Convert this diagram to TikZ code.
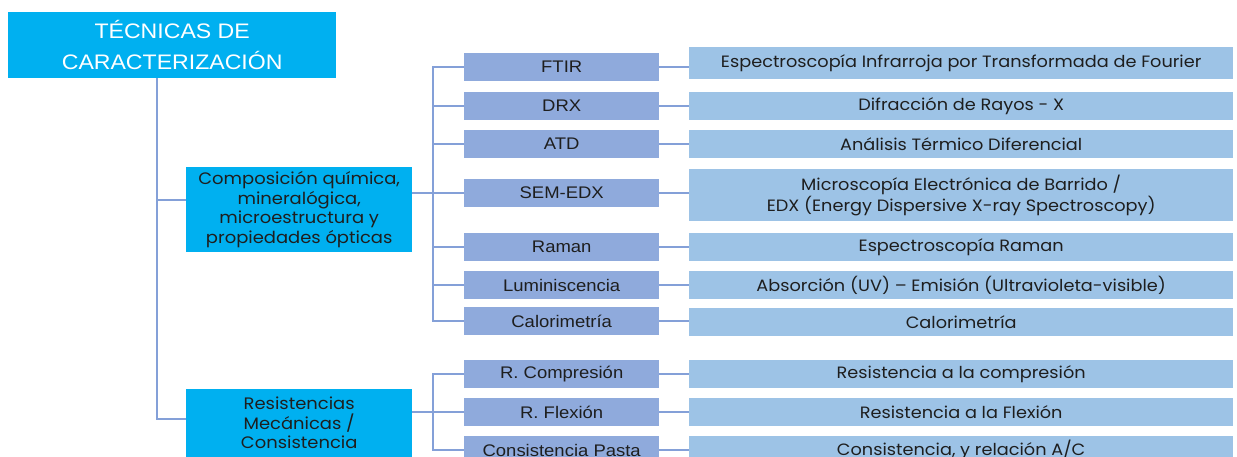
\documentclass[tikz,border=0pt]{standalone}
\usepackage{fontspec}
\setmainfont{Liberation Sans}
\newfontfamily\arialx{Liberation Sans}[FakeStretch=1.1]
\newfontfamily\gothic{Poppins}[FakeStretch=1.08]
\usetikzlibrary{calc}

\definecolor{cyanbox}{RGB}{0,176,240}
\definecolor{midbox}{RGB}{143,170,220}
\definecolor{descfill}{RGB}{157,195,230}
\definecolor{linkline}{RGB}{132,160,216}
\definecolor{inktext}{RGB}{30,30,30}

\tikzset{
  box/.style={anchor=north west, inner sep=0pt, align=center, text=inktext},
  titlebox/.style={box, fill=cyanbox, text=white,
    font=\arialx\fontsize{21}{31}\selectfont},
  groupbox/.style={box, fill=cyanbox, minimum width=226pt,
    font=\gothic\fontsize{16.6}{19.5}\selectfont},
  techbox/.style={box, fill=midbox, minimum width=195pt, minimum height=28pt,
    font=\arialx\fontsize{16.8}{19}\selectfont},
  descbox/.style={box, fill=descfill, minimum width=544pt, minimum height=28pt,
    font=\gothic\fontsize{16.4}{21}\selectfont},
  link/.style={draw=linkline, line width=1.6pt},
}

\begin{document}
\begin{tikzpicture}[x=1pt,y=-1pt]
\useasboundingbox (0,0) rectangle (1237,457);
\fill[white] (0,0) rectangle (1237,457);

% root and the two groups
\node[titlebox, minimum width=328pt, minimum height=66pt] (root) at (8,12)
  {TÉCNICAS DE\\CARACTERIZACIÓN};
\node[groupbox, minimum height=85pt] (comp) at (186,167)
  {Composición química,\\mineralógica,\\microestructura y\\propiedades ópticas};
\node[groupbox, minimum height=68pt] (res) at (186,389)
  {Resistencias\\Mecánicas /\\Consistencia};

% techniques
\node[techbox] (ftir)  at (464,53)  {FTIR};
\node[techbox] (drx)   at (464,92)  {DRX};
\node[techbox] (atd)   at (464,130) {ATD};
\node[techbox] (sem)   at (464,179) {SEM-EDX};
\node[techbox] (raman) at (464,233) {Raman};
\node[techbox] (lumi)  at (464,271) {Luminiscencia};
\node[techbox] (calo)  at (464,307) {Calorimetría};
\node[techbox] (rcomp) at (464,360) {R. Compresión};
\node[techbox] (rflex) at (464,398) {R. Flexión};
\node[techbox] (cpas)  at (464,436) {Consistencia Pasta};

% descriptions
\node[descbox, minimum height=32pt] (ftirD) at (689,47)
  {Espectroscopía Infrarroja por Transformada de Fourier};
\node[descbox] (drxD)   at (689,92)  {Difracción de Rayos - X};
\node[descbox] (atdD)   at (689,130) {Análisis Térmico Diferencial};
\node[descbox, minimum height=52pt] (semD) at (689,169)
  {Microscopía Electrónica de Barrido /\\EDX (Energy Dispersive X-ray Spectroscopy)};
\node[descbox] (ramanD) at (689,233) {Espectroscopía Raman};
\node[descbox] (lumiD)  at (689,271) {Absorción (UV) – Emisión (Ultravioleta-visible)};
\node[descbox] (caloD)  at (689,308) {Calorimetría};
\node[descbox] (rcompD) at (689,360) {Resistencia a la compresión};
\node[descbox] (rflexD) at (689,398) {Resistencia a la Flexión};
\node[descbox] (cpasD)  at (689,436) {Consistencia,\ y relación A/C};

% trunk from the root
\coordinate (trunk) at (157,78);
\draw[link] (trunk) |- ([yshift=9.5pt]comp.west);
\draw[link] (trunk) |- ([yshift=4pt]res.west);

% bus of the first group
\coordinate (busA) at (433,193);
\draw[link] (sem.west) -- (comp.east |- sem.west);
\draw[link] (ftir.west) -| (busA) |- (calo.west);
\foreach \t in {drx,atd,raman,lumi}
  \draw[link] (\t.west) -- (\t.west -| busA);

% bus of the second group
\coordinate (busB) at (433,411);
\draw[link] (rflex.west) -- (res.east |- rflex.west);
\draw[link] (rcomp.west) -| (busB) |- (cpas.west);

% technique to description
\foreach \t in {ftir,drx,atd,sem,raman,lumi,calo,rcomp,rflex,cpas}
  \draw[link] (\t.east) -- (\t.east -| \t D.west);
\end{tikzpicture}
\end{document}
